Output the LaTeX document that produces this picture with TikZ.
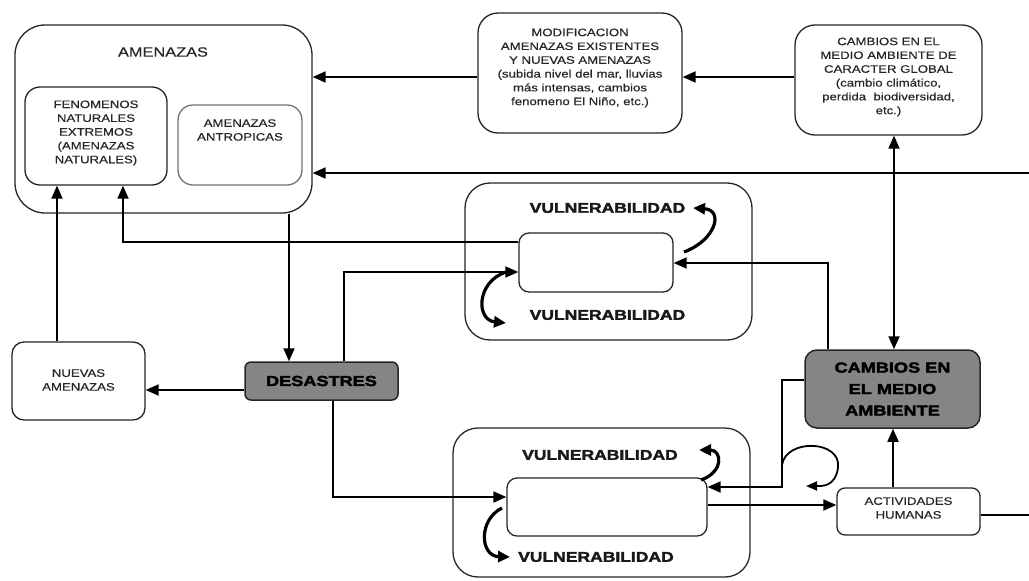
\documentclass[tikz,border=0pt]{standalone}
\usepackage{fontspec}
\setmainfont{Liberation Sans}
\newfontfamily\bodyf{Liberation Sans}[FakeStretch=1.22,FakeBold=0.4]
\newfontfamily\heavyf{Liberation Sans}[FakeStretch=1.25,BoldFeatures={FakeBold=2.5}]
\usetikzlibrary{arrows.meta}
\begin{document}
\begin{tikzpicture}[x=1pt,y=-1pt,
  bx/.style={draw=black!85, line width=1.3pt, inner sep=0pt, align=center},
  txt/.style={inner sep=0pt, align=center, text=black!85, font=\bodyf\fontsize{10.8}{13.8}\selectfont},
  vul/.style={inner sep=0pt, text=black!90, font=\heavyf\bfseries\fontsize{14}{16}\selectfont},
  grayb/.style={draw=black!85, line width=1.5pt, fill=black!48, inner sep=0pt, align=center,
     font=\heavyf\bfseries\fontsize{14.5}{21.5}\selectfont},
  arr/.style={line width=1.8pt, -{Triangle[length=13pt,width=11pt]}},
  arrb/.style={line width=1.8pt, {Triangle[length=13pt,width=11pt]}-{Triangle[length=13pt,width=11pt]}},
  curv/.style={line width=3.2pt, -{Triangle[length=12pt,width=11pt]}},
  ln/.style={line width=1.8pt}
]
\useasboundingbox (0,0) rectangle (1029,581);
\fill[white] (0,0) rectangle (1029,581);

% AMENAZAS block
\node[bx, rounded corners=30pt, minimum width=297pt, minimum height=188pt] (amen) at (163.5,119) {};
\node[txt, font=\bodyf\fontsize{13.4}{16}\selectfont] (amentit) at (163,52) {AMENAZAS};
\node[bx, rounded corners=15pt, minimum width=142pt, minimum height=98pt] (fen) at (96,136) {};
\node[txt] (fentxt) at (96,133) {FENOMENOS\\NATURALES\\EXTREMOS\\(AMENAZAS\\NATURALES)};
\node[bx, draw=black!55, rounded corners=15pt, minimum width=124pt, minimum height=80pt] (antro) at (240,145) {};
\node[txt] (antrotxt) at (240,130) {AMENAZAS\\ANTROPICAS};

% top boxes
\node[bx, rounded corners=20pt, minimum width=204pt, minimum height=120pt] (modif) at (580,73) {};
\node[txt] (modiftxt) at (580,68) {MODIFICACION\\AMENAZAS EXISTENTES\\Y NUEVAS AMENAZAS\\(subida nivel del mar, lluvias\\más intensas, cambios\\fenomeno El Niño, etc.)};
\node[bx, rounded corners=20pt, minimum width=187pt, minimum height=110pt] (glob) at (888.5,80) {};
\node[txt] (globtxt) at (888.5,77) {CAMBIOS EN EL\\MEDIO AMBIENTE DE\\CARACTER GLOBAL\\(cambio climático,\\perdida\ \ biodiversidad,\\etc.)};

% upper vulnerability block
\node[bx, rounded corners=25pt, minimum width=287pt, minimum height=157pt] (vc1) at (608.5,261.5) {};
\node[bx, rounded corners=10pt, minimum width=154pt, minimum height=59pt] (in1) at (596,262.5) {};
\node[vul] (v1a) at (607.5,208) {VULNERABILIDAD};
\node[vul] (v1b) at (607.5,315) {VULNERABILIDAD};

% lower vulnerability block
\node[bx, rounded corners=25pt, minimum width=297pt, minimum height=149pt] (vc2) at (601.5,502.5) {};
\node[bx, rounded corners=10pt, minimum width=200pt, minimum height=58pt] (in2) at (607,507) {};
\node[vul] (v2a) at (600,455) {VULNERABILIDAD};
\node[vul] (v2b) at (596,557) {VULNERABILIDAD};

% other boxes
\node[bx, rounded corners=12pt, minimum width=133pt, minimum height=78pt] (nuev) at (78.5,381) {};
\node[txt] (nuevtxt) at (78.5,380) {NUEVAS\\AMENAZAS};
\node[grayb, rounded corners=6pt, minimum width=153pt, minimum height=38pt] (des) at (321.5,381) {DESASTRES};
\node[grayb, rounded corners=12pt, minimum width=175pt, minimum height=78pt] (cma) at (892.5,389) {CAMBIOS EN\\EL MEDIO\\AMBIENTE};
\node[bx, rounded corners=8pt, minimum width=143pt, minimum height=47pt] (act) at (908.5,511.5) {};
\node[txt] (acttxt) at (908.5,508) {ACTIVIDADES\\HUMANAS};

% free ends at the right border
\coordinate (r1) at (1029,173);
\coordinate (r2) at (1029,515);

% connectors
\draw[arr] (modif.west |- 0,77) -- (amen.east |- 0,77);
\draw[arr] (glob.west |- 0,77) -- (modif.east |- 0,77);
\draw[arr] (r1) -- (amen.east |- r1);
\draw[arrb] (glob.south -| 894,0) -- (cma.north -| 894,0);
\draw[arr] (in1.west |- 0,242) -| (fen.south -| 123,0);
\draw[arr] (nuev.north -| 57,0) -- (fen.south -| 57,0);
\draw[arr] (amen.south -| 289,0) -- (des.north -| 289,0);
\draw[arr] (des.north -| 344,0) |- (in1.west |- 0,272);
\draw[arr] (des.west |- 0,390) -- (nuev.east |- 0,390);
\draw[arr] (des.south -| 333,0) |- (in2.west |- 0,497);
\draw[arr] (cma.north -| 828,0) |- (in1.east |- 0,263);
\draw[arr] (cma.west |- 0,380) -| (782,487) -- (in2.east |- 0,487);
\draw[arr] (in2.east |- 0,505) -- (act.west |- 0,505);
\draw[arr] (act.north -| 893,0) -- (cma.south -| 893,0);
\draw[ln] (act.east |- r2) -- (r2);
\draw[line width=1.8pt, -{Triangle[length=11pt,width=9pt]}] (782,465) .. controls (786,438) and (842,440) .. (838,468) .. controls (835,487) and (822,486) .. (806,486);

% thick curved arrows
\draw[curv] (684,252) .. controls (716,240) and (724,210) .. (693,208);
\draw[curv] (506,272) .. controls (476,282) and (476,320) .. (506,323);
\draw[curv] (701,480) .. controls (724,472) and (722,450) .. (699,450);
\draw[curv] (502,508) .. controls (478,520) and (480,556) .. (510,557);
\end{tikzpicture}
\end{document}
